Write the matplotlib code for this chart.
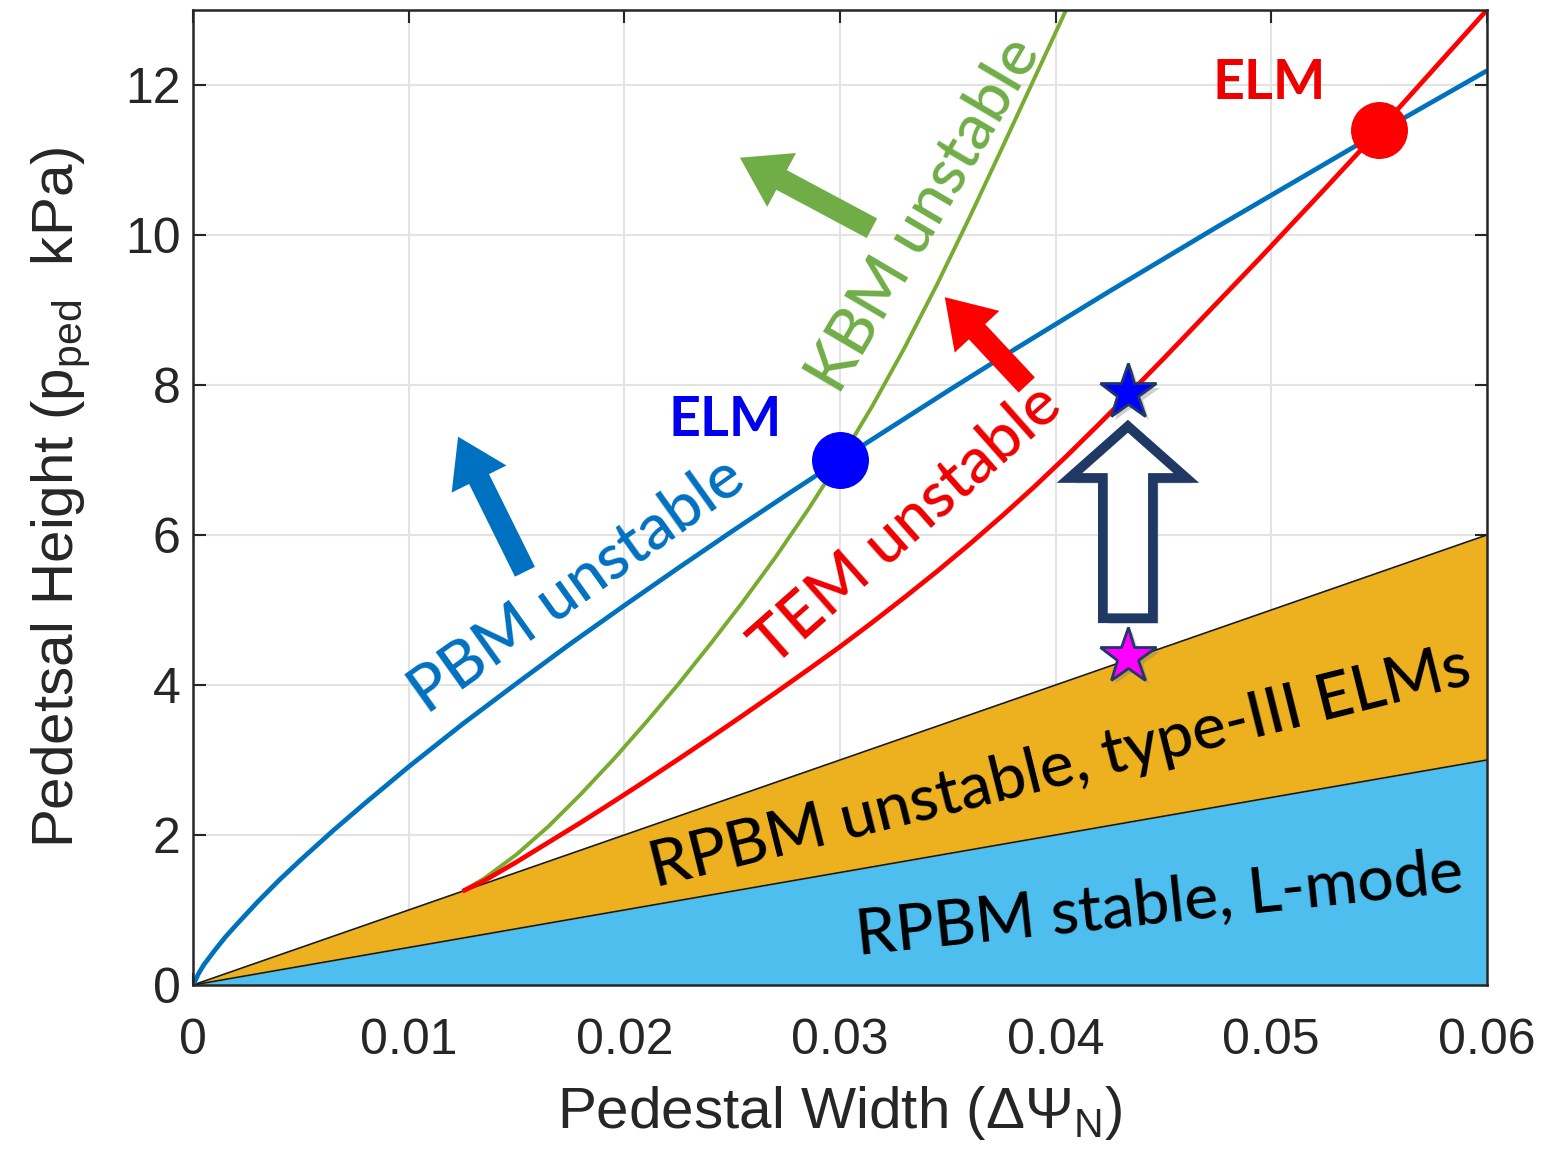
import matplotlib
matplotlib.use("Agg")
import matplotlib.pyplot as plt
import matplotlib.patheffects as pe
from matplotlib.patches import FancyArrowPatch, Polygon

# ---- curves (pedestal width, pedestal height in kPa) ----
pbm_x = [0.0, 0.00025, 0.0005, 0.001, 0.0015, 0.002, 0.003, 0.004, 0.005, 0.0065,
         0.008, 0.010, 0.0125, 0.015, 0.0175, 0.020, 0.0225, 0.025, 0.0275, 0.030,
         0.0325, 0.035, 0.0375, 0.040, 0.0425, 0.045, 0.0475, 0.050, 0.0525, 0.055,
         0.0575, 0.060]
pbm_y = [0.0, 0.15, 0.27, 0.46, 0.64, 0.80, 1.11, 1.40, 1.67, 2.06,
         2.43, 2.91, 3.48, 4.02, 4.55, 5.06, 5.56, 6.05, 6.53, 7.00,
         7.46, 7.92, 8.37, 8.81, 9.25, 9.68, 10.11, 10.53, 10.95, 11.37,
         11.78, 12.19]

tem_x = [0.0125, 0.0135, 0.015, 0.0165, 0.018, 0.0195, 0.021, 0.0225, 0.024, 0.0255,
         0.027, 0.0285, 0.030, 0.0315, 0.033, 0.0345, 0.036, 0.0375, 0.039, 0.0405,
         0.042, 0.0435, 0.045, 0.0465, 0.048, 0.0495, 0.051, 0.0525, 0.054, 0.055,
         0.0565, 0.058, 0.060]
tem_y = [1.25, 1.39, 1.64, 1.905, 2.17, 2.445, 2.725, 3.01, 3.30, 3.595,
         3.895, 4.20, 4.51, 4.835, 5.17, 5.515, 5.875, 6.25, 6.64, 7.05,
         7.475, 7.91, 8.35, 8.80, 9.25, 9.70, 10.16, 10.62, 11.085, 11.40,
         11.88, 12.36, 13.0]

kbm_x = [0.0125, 0.0135, 0.015, 0.0165, 0.018, 0.0195, 0.021, 0.0225, 0.024, 0.0255,
         0.027, 0.0285, 0.030, 0.0315, 0.033, 0.0345, 0.036, 0.0375, 0.039, 0.0405]
kbm_y = [1.25, 1.42, 1.74, 2.12, 2.55, 3.01, 3.50, 4.01, 4.55, 5.11,
         5.70, 6.33, 7.00, 7.72, 8.50, 9.34, 10.23, 11.15, 12.08, 13.01]

# RPBM bands
band_x = [0.0, 0.06]
band_upper = [0.0, 6.0]
band_lower = [0.0, 3.0]
band_base = [0.0, 0.0]

# ELM onset points and operating points
elm_pbm = (0.030, 7.0)
elm_tem = (0.055, 11.4)
op_low = (0.04335, 4.38)
op_high = (0.04335, 7.90)

xticks = [0, 0.01, 0.02, 0.03, 0.04, 0.05, 0.06]
xtick_labels = ['0', '0.01', '0.02', '0.03', '0.04', '0.05', '0.06']
yticks = [0, 2, 4, 6, 8, 10, 12]
ytick_labels = ['0', '2', '4', '6', '8', '10', '12']

C_BLUE = '#0072BD'
C_RED = '#FF0000'
C_GREEN = '#77AC30'
C_ORANGE = '#EDB120'
C_CYAN = '#4DBEEE'
C_NAVY = '#1F3864'
AXC = '#262626'

plt.rcParams['mathtext.fontset'] = 'custom'
plt.rcParams['mathtext.rm'] = 'Liberation Sans'
plt.rcParams['mathtext.it'] = 'Liberation Sans:italic'

TICK_FONT = ['Liberation Sans', 'DejaVu Sans']
NOTE_FONT = ['Lato', 'Open Sans', 'DejaVu Sans']

fig = plt.figure(figsize=(15.42, 11.58), dpi=100)
ax = fig.add_axes([0.1252, 0.1494, 0.8391, 0.842])

ax.set_xlim(0, 0.06)
ax.set_ylim(0, 13)
ax.set_axisbelow(True)
ax.grid(True, color='#e3e3e3', linewidth=1.5)

# stability regions
ax.fill_between(band_x, band_base, band_lower, color=C_CYAN, linewidth=0, zorder=1)
ax.fill_between(band_x, band_lower, band_upper, color=C_ORANGE, linewidth=0, zorder=1)
ax.plot(band_x, band_lower, color='#1a1a1a', linewidth=1.2, zorder=2)
ax.plot(band_x, band_upper, color='#1a1a1a', linewidth=1.2, zorder=2)

# boundaries
ax.plot(kbm_x, kbm_y, color=C_GREEN, linewidth=2.8, zorder=3, solid_capstyle='butt')
ax.plot(tem_x, tem_y, color=C_RED, linewidth=3.4, zorder=3, solid_capstyle='butt')
ax.plot(pbm_x, pbm_y, color=C_BLUE, linewidth=3.4, zorder=4, solid_capstyle='butt')

# ELM points
ax.plot(*elm_pbm, 'o', color='#0000FF', markersize=40, zorder=6)
ax.plot(*elm_tem, 'o', color='#FF0000', markersize=40, zorder=6)

# direction-of-instability arrows
def block_arrow(tail, tip, color):
    arr = FancyArrowPatch(tail, tip, arrowstyle='simple,head_length=34,head_width=44,tail_width=16',
                          mutation_scale=1, color=color, linewidth=0, shrinkA=0, shrinkB=0,
                          zorder=5)
    ax.add_patch(arr)

block_arrow((0.01539, 5.51), (0.01229, 7.31), '#0070C0')
block_arrow((0.03148, 10.09), (0.02536, 11.03), '#70AD47')
block_arrow((0.03866, 8.00), (0.03486, 9.17), '#FF0000')

# hollow arrow from low to high operating point
xc = op_low[0]
hw_s, hw_h = 0.00116, 0.00271
y0, yb, yt = 4.89, 6.76, 7.45
hollow = Polygon([(xc - hw_s, y0), (xc + hw_s, y0), (xc + hw_s, yb), (xc + hw_h, yb),
                  (xc, yt), (xc - hw_h, yb), (xc - hw_s, yb)], closed=True,
                 facecolor='white', edgecolor=C_NAVY, linewidth=7, joinstyle='miter', zorder=6)
hollow.set_path_effects([pe.SimplePatchShadow(offset=(4, -4), shadow_rgbFace='#888888', alpha=0.35),
                         pe.Normal()])
ax.add_patch(hollow)

star_fx = [pe.SimplePatchShadow(offset=(3, -3), shadow_rgbFace='#777777', alpha=0.35), pe.Normal()]
ax.plot(*op_low, marker='*', markersize=42, markerfacecolor='#FF00FF',
        markeredgecolor=C_NAVY, markeredgewidth=2, zorder=7, path_effects=star_fx)
ax.plot(*op_high, marker='*', markersize=42, markerfacecolor='#0000FF',
        markeredgecolor=C_NAVY, markeredgewidth=2, zorder=7, path_effects=star_fx)

# annotations
def note(x, y, s, color, rot, size=46, weight=500):
    ax.text(x, y, s, color=color, rotation=rot, rotation_mode='anchor', ha='center', va='center',
            fontsize=size, fontweight=weight, family=NOTE_FONT, zorder=8)

note(0.0178, 5.33, 'PBM unstable', '#0070C0', 35.5)
note(0.0331, 6.13, 'TEM unstable', '#EE0000', 41.5)
note(0.0339, 10.27, 'KBM unstable', '#70AD47', 59.5)
note(0.0402, 2.89, 'RPBM unstable, type-III ELMs', 'black', 14)
note(0.0448, 1.07, 'RPBM stable, L-mode', 'black', 6)
note(0.02466, 7.53, 'ELM', '#0000EE', 0, size=40, weight='bold')
note(0.0499, 12.03, 'ELM', '#EE0000', 0, size=40, weight='bold')

# axes styling
ax.set_xticks(xticks)
ax.set_xticklabels(xtick_labels)
ax.set_yticks(yticks)
ax.set_yticklabels(ytick_labels)
ax.tick_params(direction='in', length=9, width=1.5, top=True, right=True,
               labelsize=36, colors=AXC, labelcolor=AXC)
ax.tick_params(axis='x', pad=24)
ax.tick_params(axis='y', pad=9)
for lab in ax.get_xticklabels() + ax.get_yticklabels():
    lab.set_family(TICK_FONT)
for sp in ax.spines.values():
    sp.set_color(AXC)
    sp.set_linewidth(1.8)
    sp.set_zorder(9)

ax.set_xlabel(r'Pedestal Width ($\Delta\Psi_{\mathrm{N}}$)', fontsize=42, color=AXC,
              family=TICK_FONT, labelpad=14)
ax.set_ylabel(r'Pedetsal Height (p$_{\mathrm{ped}}$  kPa)', fontsize=42, color=AXC,
              family=TICK_FONT, labelpad=24)

fig.savefig('out.png', dpi=100)
